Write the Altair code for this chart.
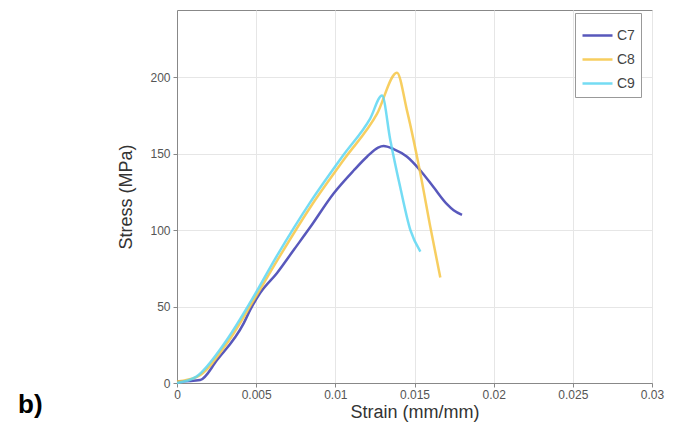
import altair as alt
import pandas as pd

c7_strain = [0.0, 0.00147, 0.00253, 0.00421, 0.00463, 0.00526, 0.00632, 0.00737, 0.00842, 0.00989,
             0.01116, 0.01200, 0.01270, 0.01305, 0.01368, 0.01453, 0.01537, 0.01621, 0.01705, 0.01747, 0.0180]
c7_stress = [1, 2, 15, 39, 48, 59, 72, 87, 102, 124, 139, 148, 154, 155, 153, 148, 139, 128, 117, 113, 110]

c8_strain = [0.0, 0.00126, 0.00316, 0.00484, 0.00632, 0.00842, 0.01053, 0.01263, 0.01389,
             0.01453, 0.01537, 0.0160, 0.01663]
c8_stress = [1, 4, 26, 54, 80, 115, 146, 176, 203, 178, 137, 102, 69]

c9_strain = [0.0, 0.0012, 0.0030, 0.0047, 0.0063, 0.0084, 0.0105, 0.0122, 0.01295,
             0.01347, 0.0141, 0.01474, 0.01537]
c9_stress = [0, 4, 26, 54, 83, 118, 149, 173, 188, 159, 128, 100, 86]

series = ["C7", "C8", "C9"]
colors = ["#3b3bb0", "#f6c644", "#5cd6f2"]
x_ticks = [0, 0.005, 0.01, 0.015, 0.02, 0.025, 0.03]
y_ticks = [0, 50, 100, 150, 200]

rows = []
for name, xs, ys in [("C7", c7_strain, c7_stress), ("C8", c8_strain, c8_stress), ("C9", c9_strain, c9_stress)]:
    for i, (a, b) in enumerate(zip(xs, ys)):
        rows.append({"series": name, "strain": a, "stress": b, "order": i})
df = pd.DataFrame(rows)

lines = alt.Chart(df).mark_line(strokeWidth=2.5, opacity=0.85, interpolate="monotone").encode(
    x=alt.X("strain:Q", scale=alt.Scale(domain=[0, 0.03], nice=False),
            axis=alt.Axis(values=x_ticks, title="Strain (mm/mm)", labelFlush=False,
                          labelExpr="datum.value == 0 ? '0' : format(datum.value, '')")),
    y=alt.Y("stress:Q", scale=alt.Scale(domain=[0, 244], nice=False),
            axis=alt.Axis(values=y_ticks, title="Stress (MPa)", labelFlush=False)),
    color=alt.Color("series:N", scale=alt.Scale(domain=series, range=colors),
                    legend=alt.Legend(title=None, orient="none", legendX=398, legendY=3,
                                      symbolType="stroke", symbolSize=900, symbolStrokeWidth=2.5,
                                      labelFontSize=14, labelColor="#444", rowPadding=-9,
                                      labelOffset=3,
                                      strokeColor="#999", padding=6, fillColor="white")),
    order="order:Q",
    detail="series:N",
)

label = alt.Chart(pd.DataFrame({"t": ["b)"]})).mark_text(
    fontSize=26, fontWeight="bold", font="Liberation Sans", align="left", baseline="middle", color="black"
).encode(text="t:N", x=alt.value(-159), y=alt.value(395))

chart = alt.layer(lines, label).properties(
    width=475, height=373,
    autosize=alt.AutoSizeParams(type="none"),
    padding={"left": 177, "top": 10, "right": 34, "bottom": 55},
).configure_axis(
    grid=True, gridColor="#e6e6e6", gridWidth=1,
    domainColor="#888", tickColor="#888", tickSize=4,
    labelFont="Liberation Sans", labelFontSize=12, labelColor="#555",
    titleFont="Liberation Sans", titleFontSize=18, titleColor="#333", titleFontWeight="normal",
).configure_axisX(titlePadding=3, labelPadding=2).configure_axisY(titlePadding=14, labelPadding=3
).configure_legend(labelFont="Liberation Sans").configure_view(stroke="#888")

chart.save("out.html", embed_options={"renderer": "svg", "actions": False})
